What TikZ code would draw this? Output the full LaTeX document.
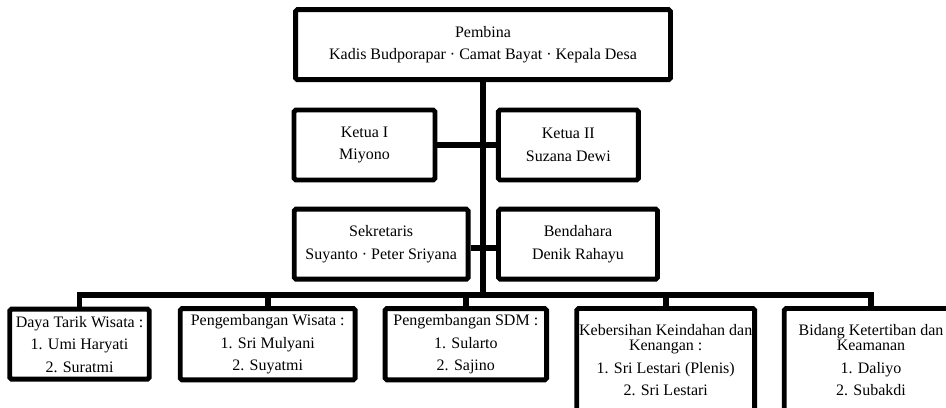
\documentclass[tikz,border=0pt]{standalone}
\usepackage{fontspec}
\setmainfont{Liberation Serif}
\tikzset{
    unit/.style={rectangle,draw,line width=2.8pt,rounded corners=1pt,align=center,inner xsep=0pt,
                 font=\fontsize{9.1}{12.8}\selectfont,minimum height=1.4cm},
    tall/.style={minimum height=2.06cm},
    link/.style={line width=3.2pt}
}

\begin{document}
\begin{tikzpicture}[x=0.02cm,y=-0.02cm]

    \useasboundingbox (0,0) rectangle (946,408);
    \clip (0,0) rectangle (946,408);

    \node[unit,minimum width=7.5cm]  (pembina)    at (483,44.7)  {Pembina\\Kadis Budporapar · Camat Bayat · Kepala Desa};

    \node[unit,minimum width=2.82cm] (ketua1)     at (364.5,145) {Ketua I\\Miyono};
    \node[unit,minimum width=2.8cm]  (ketua2)     at (568.3,145) {Ketua II\\Suzana Dewi};

    \node[unit,minimum width=3.48cm] (sekretaris) at (381.2,244.2) {Sekretaris\\Suyanto · Peter Sriyana};
    \node[unit,minimum width=3.18cm] (bendahara)  at (578,244.2)   {Bendahara\\Denik Rahayu};

    \node[unit,minimum width=2.79cm] (daya)       at (79.5,344.2)  {Daya Tarik Wisata :\\1. Umi Haryati\\2. Suratmi};
    \node[unit,minimum width=3.5cm]  (wisata)     at (267.7,344.2) {Pengembangan Wisata :\\1. Sri Mulyani\\2. Suyatmi};
    \node[unit,minimum width=3.23cm] (sdm)        at (465.8,344.2) {Pengembangan SDM :\\1. Sularto\\2. Sajino};
    \node[unit,tall,minimum width=3.56cm] (kebersihan) at (665.7,360)
        {Kebersihan Keindahan dan\\[-4pt]Kenangan :\\1. Sri Lestari (Plenis)\\2. Sri Lestari};
    \node[unit,tall,minimum width=3.47cm] (ketertiban) at (871,360)
        {Bidang Ketertiban dan\\[-4pt]Keamanan\\1. Daliyo\\2. Subakdi};

    \coordinate (bus) at (483,295);

    \draw[link] (pembina) -- (bus);
    \draw[link] (ketua1) -- (ketua2);
    \draw[link] ([yshift=-0.08cm]sekretaris.east) -- ([yshift=-0.08cm]bendahara.west);
    \foreach \unit in {daya,wisata,sdm,kebersihan,ketertiban}
        \draw[link] (bus) -| (\unit);

\end{tikzpicture}
\end{document}
